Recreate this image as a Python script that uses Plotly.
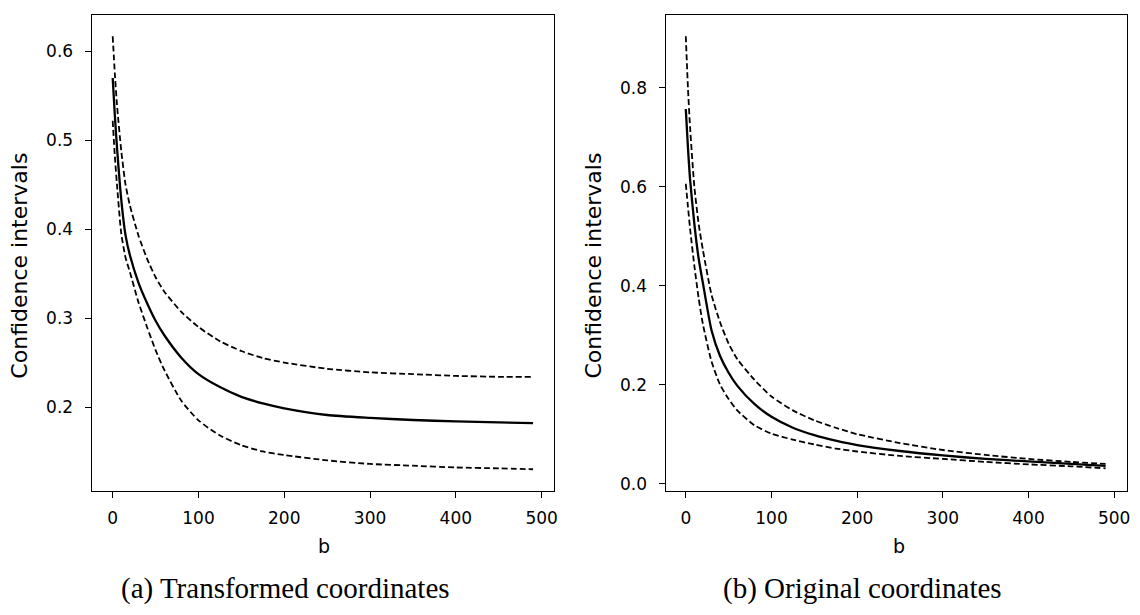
import plotly.graph_objects as go

# ---- data ----
b = [0, 2.5, 5, 10, 15, 20, 30, 40, 50, 60, 80, 100, 125, 150, 175, 200, 250, 300, 350, 400, 450, 490]

# (a) transformed coordinates
a_mid = [0.570, 0.528, 0.492, 0.433, 0.393, 0.371, 0.340, 0.317, 0.297, 0.281, 0.2555, 0.237, 0.2224,
         0.2114, 0.2041, 0.1986, 0.191, 0.1878, 0.1854, 0.1838, 0.1827, 0.182]
a_up = [0.617, 0.575, 0.540, 0.488, 0.450, 0.427, 0.393, 0.367, 0.346, 0.330, 0.307, 0.290, 0.274,
        0.263, 0.255, 0.250, 0.243, 0.239, 0.237, 0.235, 0.234, 0.234]
a_lo = [0.522, 0.482, 0.450, 0.395, 0.368, 0.352, 0.318, 0.290, 0.264, 0.242, 0.207, 0.185, 0.168,
        0.157, 0.150, 0.146, 0.140, 0.136, 0.134, 0.132, 0.131, 0.130]

# (b) original coordinates
o_mid = [0.757, 0.680, 0.615, 0.525, 0.455, 0.405, 0.310, 0.258, 0.224, 0.198, 0.161, 0.135, 0.113,
         0.098, 0.087, 0.078, 0.066, 0.057, 0.050, 0.045, 0.040, 0.036]
o_up = [0.904, 0.800, 0.720, 0.600, 0.525, 0.472, 0.382, 0.326, 0.283, 0.252, 0.210, 0.176, 0.148,
        0.128, 0.113, 0.100, 0.082, 0.068, 0.058, 0.050, 0.044, 0.040]
o_lo = [0.606, 0.560, 0.515, 0.440, 0.375, 0.322, 0.247, 0.200, 0.171, 0.148, 0.118, 0.101, 0.089,
        0.079, 0.071, 0.065, 0.056, 0.050, 0.044, 0.039, 0.035, 0.031]

x_ticks = [0, 100, 200, 300, 400, 500]
a_yticks = [0.2, 0.3, 0.4, 0.5, 0.6]
b_yticks = [0.0, 0.2, 0.4, 0.6, 0.8]
y_title = "Confidence intervals"
x_title = "b"
captions = ["(a) Transformed coordinates", "(b) Original coordinates"]

W, H = 1140, 615
fig = go.Figure()

solid = dict(color="black", width=2.3, shape="spline", smoothing=0.6)
dashed = dict(color="black", width=1.8, dash="6px,3px", shape="spline", smoothing=0.6)

for xa, ya, series in [("x", "y", (a_up, a_mid, a_lo)), ("x2", "y2", (o_up, o_mid, o_lo))]:
    up, mid, lo = series
    fig.add_trace(go.Scatter(x=b, y=up, mode="lines", line=dashed, xaxis=xa, yaxis=ya, showlegend=False))
    fig.add_trace(go.Scatter(x=b, y=lo, mode="lines", line=dashed, xaxis=xa, yaxis=ya, showlegend=False))
    fig.add_trace(go.Scatter(x=b, y=mid, mode="lines", line=solid, xaxis=xa, yaxis=ya, showlegend=False))

tickfont = dict(family="DejaVu Sans", size=17, color="black")
common_axis = dict(showline=True, linecolor="black", linewidth=1.3, mirror=True,
                   ticks="outside", ticklen=6, tickwidth=1.2, tickcolor="black",
                   showgrid=False, zeroline=False, tickfont=tickfont)

ydom = [(615 - 493) / H, (615 - 15) / H]
fig.update_layout(
    width=W, height=H,
    margin=dict(l=0, r=0, t=0, b=0),
    paper_bgcolor="white", plot_bgcolor="white",
    xaxis=dict(domain=[92 / W, 556 / W], range=[-24.5, 514.5], tickvals=x_ticks, anchor="y",
               ticklabelstandoff=6, **common_axis),
    yaxis=dict(domain=ydom, range=[0.106, 0.641], tickvals=a_yticks, tickformat=".1f", anchor="x",
               ticklabelstandoff=8, **common_axis),
    xaxis2=dict(domain=[668 / W, 1131 / W], range=[-23.5, 515], tickvals=x_ticks, anchor="y2",
                ticklabelstandoff=6, **common_axis),
    yaxis2=dict(domain=ydom, range=[-0.014, 0.947], tickvals=b_yticks, tickformat=".1f", anchor="x2",
                ticklabelstandoff=8, **common_axis),
)

ytfont = dict(family="DejaVu Sans", size=22, color="black")
xtfont = dict(family="DejaVu Sans", size=19, color="black")
capfont = dict(family="Liberation Serif", size=29, color="black")
annos = []
for xc in (20, 596):
    annos.append(dict(text=y_title, x=xc / W, y=(615 - 267) / H, xref="paper", yref="paper",
                      textangle=-90, showarrow=False, font=ytfont, xanchor="center", yanchor="middle"))
for xc in (325, 902):
    annos.append(dict(text=x_title, x=xc / W, y=(615 - 549) / H, xref="paper", yref="paper",
                      showarrow=False, font=xtfont, xanchor="center", yanchor="middle"))
for xc, cap in zip((287, 866), captions):
    annos.append(dict(text=cap, x=xc / W, y=(615 - 591) / H, xref="paper", yref="paper",
                      showarrow=False, font=capfont, xanchor="center", yanchor="middle"))
fig.update_layout(annotations=annos)

fig.write_html("out.html", config={"displayModeBar": False},
               post_script="document.body.style.margin='0';document.body.style.overflow='hidden';")
